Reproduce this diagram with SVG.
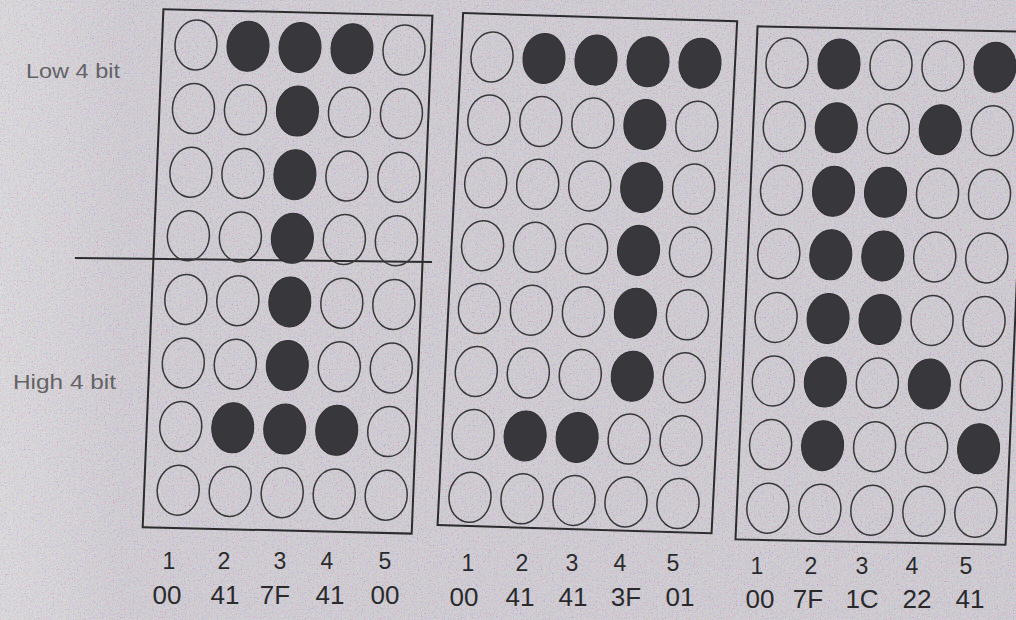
<svg xmlns="http://www.w3.org/2000/svg" width="1016" height="620" viewBox="0 0 1016 620">
<defs>
<linearGradient id="bg" x1="0" y1="0" x2="1" y2="0">
<stop offset="0" stop-color="#d7d5d7"/>
<stop offset="0.06" stop-color="#d2cfd3"/>
<stop offset="0.12" stop-color="#cbc7cd"/>
<stop offset="1" stop-color="#c9c5cb"/>
</linearGradient>
<filter id="grain" x="0" y="0" width="100%" height="100%">
<feTurbulence type="fractalNoise" baseFrequency="0.75" numOctaves="2" seed="7"/>
<feColorMatrix type="matrix" values="2.2 0 0 0 -0.35  0 2.2 0 0 -0.4  0 0 2.2 0 -0.3  0 0 0 0 0.25"/>
</filter>
<ellipse id="off" cx="0" cy="0" rx="21" ry="25" fill="none" stroke="#38383a" stroke-width="1.5"/>
<ellipse id="on" cx="0" cy="0" rx="21" ry="25" fill="#38373c" stroke="#2f2e32" stroke-width="1"/>
<style>
.frame{fill:none;stroke:#2c2c2e;stroke-width:2}
.num{font-family:"Liberation Sans",Arial,sans-serif;font-size:23px;fill:#2a2a2c;text-anchor:middle}
.hex{font-family:"Liberation Sans",Arial,sans-serif;font-size:26px;fill:#2a2a2c;text-anchor:middle}
.side{font-family:"Liberation Sans",Arial,sans-serif;font-size:21px;fill:#646366}
</style>
</defs>
<rect width="1016" height="620" fill="url(#bg)"/>
<rect width="1016" height="620" filter="url(#grain)"/>

<g id="side-labels">
<text class="side" x="26" y="78" textLength="94" lengthAdjust="spacingAndGlyphs">Low 4 bit</text>
<text class="side" x="13" y="389" textLength="103" lengthAdjust="spacingAndGlyphs">High 4 bit</text>
</g>

<g id="connectors">
<line x1="75" y1="258" x2="432" y2="262" stroke="#2c2c2e" stroke-width="2"/>
</g>

<g id="char-I" transform="matrix(1 0.024 -0.04 1 196 45)">
<rect class="frame" x="-34" y="-35" width="269" height="518"/>
<use href="#off" x="0" y="0"/><use href="#on" x="52" y="0"/><use href="#on" x="104" y="0"/><use href="#on" x="156" y="0"/><use href="#off" x="208" y="0"/>
<use href="#off" x="0" y="63.6"/><use href="#off" x="52" y="63.6"/><use href="#on" x="104" y="63.6"/><use href="#off" x="156" y="63.6"/><use href="#off" x="208" y="63.6"/>
<use href="#off" x="0" y="127.2"/><use href="#off" x="52" y="127.2"/><use href="#on" x="104" y="127.2"/><use href="#off" x="156" y="127.2"/><use href="#off" x="208" y="127.2"/>
<use href="#off" x="0" y="190.8"/><use href="#off" x="52" y="190.8"/><use href="#on" x="104" y="190.8"/><use href="#off" x="156" y="190.8"/><use href="#off" x="208" y="190.8"/>
<use href="#off" x="0" y="254.4"/><use href="#off" x="52" y="254.4"/><use href="#on" x="104" y="254.4"/><use href="#off" x="156" y="254.4"/><use href="#off" x="208" y="254.4"/>
<use href="#off" x="0" y="318"/><use href="#off" x="52" y="318"/><use href="#on" x="104" y="318"/><use href="#off" x="156" y="318"/><use href="#off" x="208" y="318"/>
<use href="#off" x="0" y="381.6"/><use href="#on" x="52" y="381.6"/><use href="#on" x="104" y="381.6"/><use href="#on" x="156" y="381.6"/><use href="#off" x="208" y="381.6"/>
<use href="#off" x="0" y="445.2"/><use href="#off" x="52" y="445.2"/><use href="#off" x="104" y="445.2"/><use href="#off" x="156" y="445.2"/><use href="#off" x="208" y="445.2"/>
</g>

<g id="char-J" transform="matrix(1 0.03 -0.05 1 492 57)">
<rect class="frame" x="-31" y="-43" width="274" height="512"/>
<use href="#off" x="0" y="0"/><use href="#on" x="52" y="0"/><use href="#on" x="104" y="0"/><use href="#on" x="156" y="0"/><use href="#on" x="208" y="0"/>
<use href="#off" x="0" y="62.9"/><use href="#off" x="52" y="62.9"/><use href="#off" x="104" y="62.9"/><use href="#on" x="156" y="62.9"/><use href="#off" x="208" y="62.9"/>
<use href="#off" x="0" y="125.8"/><use href="#off" x="52" y="125.8"/><use href="#off" x="104" y="125.8"/><use href="#on" x="156" y="125.8"/><use href="#off" x="208" y="125.8"/>
<use href="#off" x="0" y="188.7"/><use href="#off" x="52" y="188.7"/><use href="#off" x="104" y="188.7"/><use href="#on" x="156" y="188.7"/><use href="#off" x="208" y="188.7"/>
<use href="#off" x="0" y="251.6"/><use href="#off" x="52" y="251.6"/><use href="#off" x="104" y="251.6"/><use href="#on" x="156" y="251.6"/><use href="#off" x="208" y="251.6"/>
<use href="#off" x="0" y="314.5"/><use href="#off" x="52" y="314.5"/><use href="#off" x="104" y="314.5"/><use href="#on" x="156" y="314.5"/><use href="#off" x="208" y="314.5"/>
<use href="#off" x="0" y="377.4"/><use href="#on" x="52" y="377.4"/><use href="#on" x="104" y="377.4"/><use href="#off" x="156" y="377.4"/><use href="#off" x="208" y="377.4"/>
<use href="#off" x="0" y="440.3"/><use href="#off" x="52" y="440.3"/><use href="#off" x="104" y="440.3"/><use href="#off" x="156" y="440.3"/><use href="#off" x="208" y="440.3"/>
</g>

<g id="char-K" transform="matrix(1 0.02 -0.043 1 787 63)">
<rect class="frame" x="-31" y="-36" width="270" height="513"/>
<use href="#off" x="0" y="0"/><use href="#on" x="52" y="0"/><use href="#off" x="104" y="0"/><use href="#off" x="156" y="0"/><use href="#on" x="208" y="0"/>
<use href="#off" x="0" y="63.6"/><use href="#on" x="52" y="63.6"/><use href="#off" x="104" y="63.6"/><use href="#on" x="156" y="63.6"/><use href="#off" x="208" y="63.6"/>
<use href="#off" x="0" y="127.2"/><use href="#on" x="52" y="127.2"/><use href="#on" x="104" y="127.2"/><use href="#off" x="156" y="127.2"/><use href="#off" x="208" y="127.2"/>
<use href="#off" x="0" y="190.8"/><use href="#on" x="52" y="190.8"/><use href="#on" x="104" y="190.8"/><use href="#off" x="156" y="190.8"/><use href="#off" x="208" y="190.8"/>
<use href="#off" x="0" y="254.4"/><use href="#on" x="52" y="254.4"/><use href="#on" x="104" y="254.4"/><use href="#off" x="156" y="254.4"/><use href="#off" x="208" y="254.4"/>
<use href="#off" x="0" y="318"/><use href="#on" x="52" y="318"/><use href="#off" x="104" y="318"/><use href="#on" x="156" y="318"/><use href="#off" x="208" y="318"/>
<use href="#off" x="0" y="381.6"/><use href="#on" x="52" y="381.6"/><use href="#off" x="104" y="381.6"/><use href="#off" x="156" y="381.6"/><use href="#on" x="208" y="381.6"/>
<use href="#off" x="0" y="445.2"/><use href="#off" x="52" y="445.2"/><use href="#off" x="104" y="445.2"/><use href="#off" x="156" y="445.2"/><use href="#off" x="208" y="445.2"/>
</g>

<g id="labels-I">
<text class="num" x="169" y="569">1</text><text class="num" x="224" y="569">2</text><text class="num" x="280" y="569">3</text><text class="num" x="327" y="569">4</text><text class="num" x="385" y="569">5</text>
<text class="hex" x="167" y="604">00</text><text class="hex" x="225" y="604">41</text><text class="hex" x="275" y="604">7F</text><text class="hex" x="330" y="604">41</text><text class="hex" x="385" y="604">00</text>
</g>
<g id="labels-J">
<text class="num" x="468" y="571">1</text><text class="num" x="522" y="571">2</text><text class="num" x="572" y="571">3</text><text class="num" x="620" y="571">4</text><text class="num" x="673" y="571">5</text>
<text class="hex" x="464" y="606">00</text><text class="hex" x="520" y="606">41</text><text class="hex" x="573" y="606">41</text><text class="hex" x="626" y="606">3F</text><text class="hex" x="680" y="606">01</text>
</g>
<g id="labels-K">
<text class="num" x="757" y="574">1</text><text class="num" x="811" y="574">2</text><text class="num" x="862" y="574">3</text><text class="num" x="912" y="574">4</text><text class="num" x="966" y="574">5</text>
<text class="hex" x="760" y="608">00</text><text class="hex" x="808" y="608">7F</text><text class="hex" x="862" y="608">1C</text><text class="hex" x="917" y="608">22</text><text class="hex" x="970" y="608">41</text>
</g>
</svg>
